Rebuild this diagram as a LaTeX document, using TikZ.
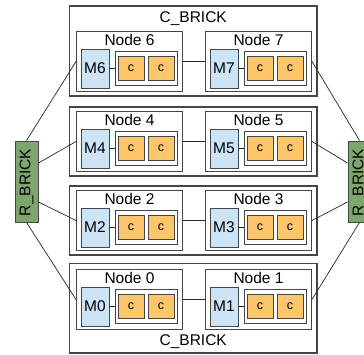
\documentclass[tikz,border=0pt]{standalone}
\usepackage{fontspec}
\setmainfont{Liberation Sans}
\usetikzlibrary{calc}

\definecolor{memblue}{HTML}{CCE4F5}
\definecolor{coreorange}{HTML}{FDC66A}
\definecolor{rgreen}{HTML}{7DA56E}
\definecolor{edgegray}{HTML}{454545}

\tikzset{
  brick/.style={draw=edgegray, line width=1.1pt, fill=white},
  nodebox/.style={draw=edgegray, line width=1pt, fill=white, inner sep=0pt,
    minimum width=106pt, minimum height=60pt, anchor=north west},
  nodelabel/.style={font=\fontsize{15.5}{18}\selectfont, anchor=base, inner sep=0pt},
  membox/.style={draw=edgegray, line width=0.9pt, fill=memblue, inner sep=0pt,
    minimum width=28pt, minimum height=39pt, font=\fontsize{15.5}{18}\selectfont},
  corewrap/.style={draw=edgegray, line width=0.9pt, fill=white, inner sep=0pt,
    minimum width=62pt, minimum height=34pt},
  corebox/.style={draw=edgegray, line width=0.9pt, fill=coreorange, inner sep=0pt,
    minimum width=26pt, minimum height=24pt, font=\fontsize{12.5}{14}\selectfont},
  rbrick/.style={draw=edgegray, line width=0.9pt, fill=rgreen, inner sep=0pt,
    minimum width=23pt, minimum height=81pt},
  rlabel/.style={rotate=90, font=\fontsize{15.5}{18}\selectfont, inner sep=0pt},
  bricklabel/.style={font=\fontsize{15.5}{18}\selectfont, anchor=base, inner sep=0pt},
  link/.style={draw=black!85, line width=0.7pt},
}

% one compute node: name, left x, top y, index
\newcommand\computenode[4]{%
  \node[nodebox] (#1) at (#2,#3) {};
  \node[nodelabel] at ($(#1.north)+(0,-14.7)$) {Node #4};
  \node[membox] (#1m) at (#2+19,#3-37.5) {M#4};
  \node[corewrap] (#1w) at (#2+70,#3-37.5) {};
  \node[corebox] (#1a) at (#2+55,#3-37.5) {c};
  \node[corebox] (#1b) at (#2+85,#3-37.5) {c};
  \draw[link] (#1m) -- (#1w);
}

\begin{document}
\begin{tikzpicture}[x=1pt, y=1pt]
  \useasboundingbox (0,0) rectangle (364,354);
  \clip (0,0) rectangle (364,354);

  % C_BRICK rows
  \draw[brick] (69.5,258) rectangle (317,348);
  \draw[brick] (69.5,178) rectangle (317,247);
  \draw[brick] (69.5,99) rectangle (317,168);
  \draw[brick] (69.5,1) rectangle (317,90.5);
  \node[bricklabel] (ctop) at (193.25,331.3) {C\_BRICK};
  \node[bricklabel] (cbot) at (193.25,8.3) {C\_BRICK};

  % compute nodes
  \computenode{n6}{76}{323}{6}
  \computenode{n7}{205}{323}{7}
  \computenode{n4}{76}{243}{4}
  \computenode{n5}{205}{243}{5}
  \computenode{n2}{76}{164}{2}
  \computenode{n3}{205}{164}{3}
  \computenode{n0}{76}{85}{0}
  \computenode{n1}{205}{85}{1}

  % links inside each row
  \draw[link] (n6.east) -- (n7.west);
  \draw[link] (n4.east) -- (n5.west);
  \draw[link] (n2.east) -- (n3.west);
  \draw[link] (n0.east) -- (n1.west);

  % R_BRICK blocks
  \node[rbrick] (rl) at (26.5,172.5) {};
  \node[rlabel] at (26.5,171.5) {R\_BRICK};
  \node[rbrick] (rr) at (359.5,172.5) {};
  \node[rlabel] at (359.5,171.5) {R\_BRICK};

  % links to the R_BRICK blocks
  \draw[link] (rl.north) -- (n6.west);
  \draw[link] ([yshift=18.5pt]rl.east) -- (n4.west);
  \draw[link] ([yshift=-20.5pt]rl.east) -- (n2.west);
  \draw[link] (rl.south) -- (n0.west);
  \draw[link] (n7.east) -- (rr.north);
  \draw[link] (n5.east) -- ([yshift=18.5pt]rr.west);
  \draw[link] (n3.east) -- ([yshift=-20.5pt]rr.west);
  \draw[link] (n1.east) -- (rr.south);
\end{tikzpicture}
\end{document}
